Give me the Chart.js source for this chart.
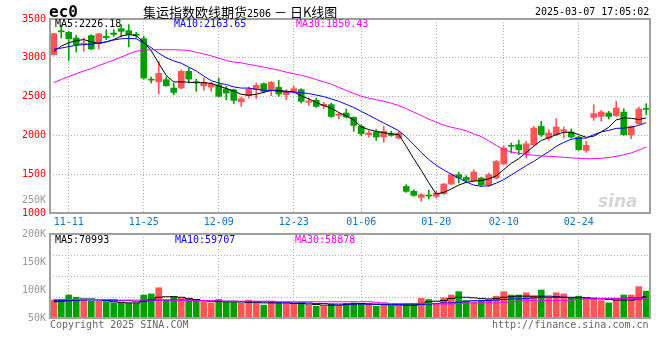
<!DOCTYPE html>
<html>
<head>
<meta charset="utf-8">
<script src="https://cdn.jsdelivr.net/npm/chart.js@4.4.1/dist/chart.umd.min.js"></script>
<style>
  body { margin: 0; background: #fff; }
  #wrap { position: relative; width: 660px; height: 360px; background: #fff; overflow: hidden; }
  #priceBox { position: absolute; left: 0; top: 0; width: 660px; height: 232px; }
  #volBox { position: absolute; left: 0; top: 222px; width: 660px; height: 118px; }
  .t { position: absolute; font: 10px 'DejaVu Sans Mono', monospace; line-height: 10px; white-space: nowrap; }
</style>
</head>
<body>
<div id="wrap">
  <div id="priceBox"><canvas id="priceChart" width="660" height="232"></canvas></div>
  <div id="volBox"><canvas id="volChart" width="660" height="118"></canvas></div>

  <div class="t" style="left:49px;top:4px;font:bold 16px 'DejaVu Sans Mono',monospace;line-height:16px;">ec0</div>
  <div class="t" style="left:143px;top:4px;font:13px 'Noto Sans CJK SC',sans-serif;line-height:15px;">集运指数欧线期货<span style="font:10px 'DejaVu Sans Mono',monospace;">2506</span> － 日K线图</div>
  <div class="t" style="left:535px;top:7px;">2025-03-07 17:05:02</div>

  <div class="t" style="left:55px;top:19px;color:#000;">MA5:2226.18</div>
  <div class="t" style="left:174px;top:19px;color:#0000ff;">MA10:2163.65</div>
  <div class="t" style="left:296px;top:19px;color:#ff00ff;">MA30:1850.43</div>

  <div class="t" style="left:22px;top:195px;color:#999;">250K</div>
  <div class="t" style="left:598px;top:193px;font:bold italic 17px 'DejaVu Sans',sans-serif;line-height:17px;color:#d6d6d6;">sina</div>

  <div class="t" style="left:55px;top:235px;color:#000;">MA5:70993</div>
  <div class="t" style="left:175px;top:235px;color:#0000ff;">MA10:59707</div>
  <div class="t" style="left:295px;top:235px;color:#ff00ff;">MA30:58878</div>

  <div class="t" style="left:50px;top:320px;color:#666;">Copyright 2025 SINA.COM</div>
  <div class="t" style="left:492px;top:320px;color:#666;">http://finance.sina.com.cn</div>
</div>

<script>
// trading days shown (ec0 daily)
const dates = [
  '11-07','11-08','11-11','11-12','11-13','11-14','11-15','11-18','11-19','11-20','11-21','11-22',
  '11-25','11-26','11-27','11-28','11-29',
  '12-02','12-03','12-04','12-05','12-06','12-09','12-10','12-11','12-12','12-13',
  '12-16','12-17','12-18','12-19','12-20','12-23','12-24','12-25','12-26','12-27','12-30','12-31',
  '01-02','01-03','01-06','01-07','01-08','01-09','01-10','01-13','01-14','01-15','01-16','01-17',
  '01-20','01-21','01-22','01-23','01-24','01-27',
  '02-05','02-06','02-07','02-10','02-11','02-12','02-13','02-14','02-17','02-18','02-19','02-20','02-21',
  '02-24','02-25','02-26','02-27','02-28',
  '03-03','03-04','03-05','03-06','03-07'
];
const tickDates = ['11-11', '11-25', '12-09', '12-23', '01-06', '01-20', '02-10', '02-24'];

const open = [
  3040,3345,3328,3255,3173,3285,3182,3276,3319,3375, 3349,3305,3246,2725,2690,2718,2610,2610,2825,2690,
  2640,2623,2653,2597,2589,2434,2512,2589,2666,2589, 2619,2525,2567,2589,2426,2451,2383,2396,2258,2288,
  2232,2117,2009,2043,1979,2022,1966,1343,1279,1201, 1225,1214,1249,1373,1494,1459,1416,1451,1356,1451,
  1631,1872,1880,1773,1880,2116,1966,2009,2052,2043, 1979,1807,2232,2245,2288,2254,2301,2009,2151,2345
];
const high = [
  3315,3420,3340,3290,3255,3298,3311,3362,3362,3427, 3427,3330,3276,2752,2954,2752,2675,2847,2868,2726,
  2739,2683,2739,2632,2597,2494,2623,2675,2675,2696, 2709,2589,2632,2602,2482,2482,2426,2417,2288,2340,
  2240,2138,2061,2074,2117,2052,2052,1365,1300,1249, 1292,1279,1380,1500,1524,1481,1558,1464,1515,1678,
  1867,1902,1936,1923,2116,2181,2074,2215,2108,2082, 1988,1923,2395,2322,2310,2438,2344,2125,2365,2408
];
const low = [
  3035,3255,2967,3074,3083,3104,3113,3233,3276,3268, 3140,3260,2726,2675,2537,2632,2524,2600,2675,2567,
  2580,2567,2494,2460,2408,2374,2482,2473,2546,2512, 2503,2460,2546,2417,2387,2361,2344,2232,2211,2224,
  2052,1996,1979,1936,1910,1988,1953,1266,1214,1150, 1180,1193,1240,1365,1386,1395,1408,1343,1343,1438,
  1622,1773,1751,1708,1859,1988,1936,1996,1966,1966, 1807,1781,2194,2181,2211,2245,2000,1958,2140,2267
];
const close = [
  3311,3335,3246,3169,3190,3113,3311,3259,3302,3341, 3298,3290,2739,2712,2800,2640,2554,2825,2726,2680,
  2683,2662,2503,2546,2451,2473,2597,2645,2567,2683, 2533,2555,2602,2439,2443,2374,2400,2245,2275,2237,
  2129,2022,2031,1979,2052,2001,2031,1279,1227,1236, 1218,1257,1373,1494,1451,1421,1528,1365,1494,1665,
  1837,1859,1816,1893,2095,2009,2031,2108,2074,1979, 1816,1872,2280,2301,2245,2353,2009,2117,2340,2335
];

const ma5 = [
  3080,3150,3195,3220,3235,3205,3185,3205,3235,3280, 3300,3285,3200,3090,2930,2770,2690,2690,2685,2678,
  2680,2670,2635,2605,2570,2530,2518,2530,2555,2580, 2580,2570,2560,2510,2470,2425,2385,2350,2295,2250,
  2200,2110,2075,2052,2035,2020,2010,1860,1700,1550, 1390,1245,1265,1310,1360,1395,1410,1420,1440,1480,
  1560,1640,1700,1780,1860,1935,1970,2010,2040,2040, 2010,1975,1990,2045,2105,2200,2225,2220,2205,2226
];
const ma10 = [
  3110,3125,3145,3160,3170,3175,3190,3205,3230,3245, 3250,3245,3190,3130,3060,3000,2960,2930,2880,2830,
  2765,2705,2675,2655,2625,2610,2610,2595,2580,2580, 2568,2560,2560,2550,2540,2520,2500,2470,2440,2400,
  2360,2310,2260,2210,2160,2110,2060,1980,1880,1780, 1690,1615,1555,1500,1450,1400,1360,1345,1350,1385,
  1430,1490,1550,1610,1665,1730,1790,1860,1910,1950, 1965,1965,2010,2045,2065,2090,2095,2105,2130,2164
];
const ma30 = [
  2680,2720,2760,2795,2830,2860,2900,2935,2970,3010, 3050,3085,3100,3104,3104,3104,3104,3100,3095,3070,
  3050,3025,2995,2965,2945,2935,2915,2900,2880,2860, 2840,2815,2795,2775,2750,2720,2690,2660,2620,2580,
  2540,2505,2480,2460,2440,2415,2385,2345,2300,2255, 2210,2170,2135,2105,2085,2060,2020,1985,1930,1870,
  1820,1785,1770,1755,1745,1735,1730,1725,1718,1710, 1705,1700,1700,1705,1715,1730,1750,1775,1810,1850
];

const volume = [
  82000,83000,91000,87000,82000,80000,80000,79000,77000,77000, 76000,76000,91000,93000,104000,82000,88000,85000,83000,82000,
  79000,77000,83000,79000,78000,77000,82000,77000,73000,79000, 77000,76000,76000,77000,73000,71000,71000,75000,73000,76000,
  77000,75000,75000,71000,76000,71000,71000,76000,76000,85000, 83000,76000,86000,91000,97000,81000,79000,82000,83000,89000,
  97000,91000,91000,95000,89000,100000,86000,95000,93000,85000, 89000,86000,86000,81000,77000,83000,91000,91000,106000,98000
];
const volMa5 = [
  79000,80000,81000,83000,84000,84000,83000,81000,79000,78000, 77000,77000,80000,83000,87000,88000,88000,87000,85000,83000,
  81000,80000,80000,79000,79000,79000,78000,78000,77000,77000, 77000,77000,76000,76000,75000,74000,73000,73000,73000,74000,
  75000,76000,75000,74000,74000,73000,73000,73000,73000,76000, 79000,80000,81000,85000,87000,87000,86000,85000,84000,85000,
  87000,88000,89000,89000,89000,89000,89000,88000,87000,86000, 86000,86000,85000,84000,83000,82000,82000,82000,84000,88000
];
const volMa10 = [
  81000,81000,81000,81000,82000,82000,82000,81000,81000,81000, 81000,80000,81000,81000,82000,82000,82000,82000,82000,81000,
  81000,80000,80000,80000,80000,79000,79000,79000,79000,79000, 78000,78000,77000,77000,77000,76000,76000,75000,75000,75000,
  75000,75000,75000,75000,74000,74000,74000,73000,73000,74000, 75000,76000,77000,77000,78000,80000,81000,81000,81000,82000,
  83000,84000,84000,85000,86000,87000,87000,87000,87000,87000, 87000,86000,85000,85000,85000,85000,85000,86000,86000,86000
];
const volMa30 = [
  83000,83000,83000,83000,83000,83000,83000,83000,83000,82000, 82000,82000,82000,82000,82000,82000,81000,81000,81000,81000,
  81000,81000,81000,80000,80000,80000,80000,80000,80000,80000, 79000,79000,79000,79000,79000,79000,79000,79000,79000,79000,
  79000,79000,79000,78000,77000,76000,76000,76000,76000,76000, 76000,75000,75000,75000,76000,77000,77000,77000,77000,77000,
  78000,79000,80000,81000,81000,81000,81000,81000,81000,82000, 83000,84000,84000,85000,85000,85000,85000,85000,85000,85000
];

const UP = '#ff5555';
const DOWN = '#00a000';
const barColors = close.map((c, i) => (c >= open[i] ? UP : DOWN));

const MONO = "'DejaVu Sans Mono', monospace";
const DOTS = [1, 2];

// grey frame around each plot area
const framePlugin = {
  id: 'frame',
  afterDraw(chart) {
    const { ctx, chartArea: a } = chart;
    ctx.save();
    ctx.strokeStyle = '#a0a0a0';
    ctx.lineWidth = 2;
    ctx.strokeRect(a.left, a.top, a.right - a.left, a.bottom - a.top);
    ctx.restore();
  }
};

// keep only the dated ticks, so grid lines sit on them only
function keepDateTicks(axis) {
  axis.ticks = axis.ticks.filter(t => tickDates.includes(dates[t.value]));
}

function maLine(data, color, stepped) {
  return {
    type: 'line',
    data: data,
    borderColor: color,
    borderWidth: 1,
    pointRadius: 0,
    fill: false,
    tension: 0,
    stepped: stepped || false,
    order: 0
  };
}

// price chart
new Chart(document.getElementById('priceChart').getContext('2d'), {
  type: 'bar',
  data: {
    labels: dates,
    datasets: [
      maLine(ma30, '#ff00ff'),
      maLine(ma10, '#0000ff'),
      maLine(ma5, '#000000'),
      {
        data: low.map((l, i) => [l, high[i]]),
        backgroundColor: barColors,
        barThickness: 1,
        grouped: false,
        order: 2
      },
      {
        data: open.map((o, i) => [o, close[i]]),
        backgroundColor: barColors,
        barThickness: 6,
        minBarLength: 1,
        grouped: false,
        order: 1
      }
    ]
  },
  options: {
    responsive: false,
    animation: false,
    layout: { padding: { left: 0, right: 10, top: 19, bottom: 0 } },
    plugins: { legend: { display: false }, tooltip: { enabled: false } },
    scales: {
      x: {
        type: 'category',
        offset: true,
        afterBuildTicks: keepDateTicks,
        afterFit: s => { s.height = 19; },
        grid: { offset: false, color: '#b0b0b0', drawTicks: false },
        border: { display: false, dash: DOTS },
        ticks: {
          autoSkip: false,
          maxRotation: 0,
          padding: 3,
          color: '#0a74c8',
          font: { family: MONO, size: 10 }
        }
      },
      y: {
        min: 1000,
        max: 3500,
        afterFit: s => { s.width = 50; },
        grid: { color: '#b0b0b0', drawTicks: false },
        border: { display: false, dash: DOTS },
        ticks: {
          stepSize: 500,
          padding: 4,
          color: '#ff0000',
          font: { family: MONO, size: 10 },
          callback: v => String(v)
        }
      }
    }
  },
  plugins: [framePlugin]
});

// volume chart
new Chart(document.getElementById('volChart').getContext('2d'), {
  type: 'bar',
  data: {
    labels: dates,
    datasets: [
      maLine(volMa30, '#ff00ff', 'middle'),
      maLine(volMa10, '#0000ff', 'middle'),
      maLine(volMa5, '#000000', 'middle'),
      {
        data: volume,
        backgroundColor: barColors,
        barThickness: 6,
        grouped: false,
        order: 1
      }
    ]
  },
  options: {
    responsive: false,
    animation: false,
    layout: { padding: { left: 0, right: 10, top: 12, bottom: 22 } },
    plugins: { legend: { display: false }, tooltip: { enabled: false } },
    scales: {
      x: {
        type: 'category',
        offset: true,
        afterBuildTicks: keepDateTicks,
        grid: { offset: false, color: '#b0b0b0', drawTicks: false },
        border: { display: false, dash: DOTS },
        ticks: { display: false }
      },
      y: {
        min: 50000,
        max: 200000,
        afterFit: s => { s.width = 50; },
        grid: { display: false, drawTicks: false },
        border: { display: false },
        ticks: {
          stepSize: 50000,
          padding: 4,
          color: '#999',
          font: { family: MONO, size: 10 },
          callback: v => (v / 1000) + 'K'
        }
      },
      yg: {
        position: 'right',
        min: 0,
        max: 4,
        afterFit: s => { s.width = 0; },
        grid: { color: '#b0b0b0', drawTicks: false },
        border: { display: false, dash: DOTS },
        ticks: { display: false, stepSize: 1 }
      }
    }
  },
  plugins: [framePlugin]
});
</script>
</body>
</html>
